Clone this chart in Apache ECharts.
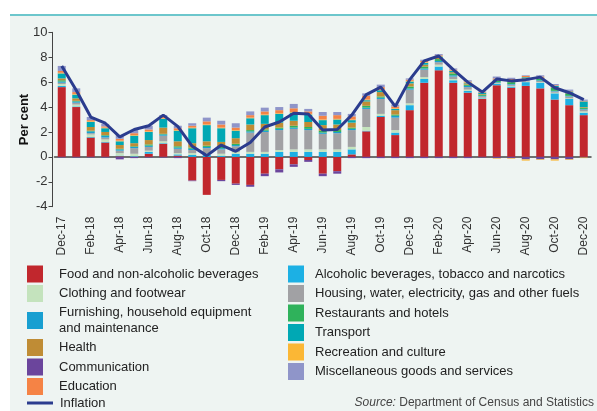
<!DOCTYPE html>
<html>
<head>
<meta charset="utf-8">
<title>Inflation contributions</title>
<script src="https://cdn.jsdelivr.net/npm/echarts@6.0.0/dist/echarts.min.js"></script>
<style>
  html, body { margin: 0; padding: 0; background: #ffffff; }
  #container { width: 597px; height: 411px; }
</style>
</head>
<body>
<div id="container"></div>
<script type="text/javascript">
var months = ['Dec-17','Jan-18','Feb-18','Mar-18','Apr-18','May-18','Jun-18','Jul-18','Aug-18','Sep-18','Oct-18','Nov-18',
              'Dec-18','Jan-19','Feb-19','Mar-19','Apr-19','May-19','Jun-19','Jul-19','Aug-19','Sep-19','Oct-19','Nov-19',
              'Dec-19','Jan-20','Feb-20','Mar-20','Apr-20','May-20','Jun-20','Jul-20','Aug-20','Sep-20','Oct-20','Nov-20','Dec-20'];

var food    = [5.6,4.0,1.55,1.15,0.05,0,0.25,1.05,0.1,-1.9,-3.05,-1.85,-2.15,-2.25,-1.35,-1.0,-0.6,-0.25,-1.35,-1.15,0.2,2.05,3.2,1.75,3.75,5.95,6.95,5.95,5.15,4.65,5.75,5.55,5.7,5.5,4.6,4.15,3.35];
var alcohol = [0.1,0.05,0.05,0.05,0.05,0.05,0.15,0.05,0.1,0.15,0.15,0.1,0.25,0.25,0.25,0.4,0.4,0.4,0.4,0.4,0.4,0.05,0.1,0.2,0.4,0.3,0.3,0.2,0.15,0.05,0.1,0.1,0.3,0.45,0.5,0.5,0.2];
var clothing = [0.15,0.15,0.2,0.2,0.2,0.2,0.1,0.15,0.1,0.15,0.15,0.15,0.15,0.15,0.15,0.15,0.2,0.2,0.2,0.2,0.2,0.3,0.15,0.2,0.15,0.15,0.15,0.1,0.1,0.05,0.05,0.05,0.05,0.05,0.05,0.05,0.1];
var housing = [0.1,0.15,0.1,0.15,0.2,0.45,0.3,0.45,0.35,0.25,0.4,0.35,0.45,1.55,1.6,1.6,1.65,1.55,1.25,1.3,1.35,1.45,1.2,1.0,1.1,0.6,0.2,0.2,0.2,0.1,0.05,0.1,0.1,0.1,0.1,0.15,0.15];
var furnishing = [0.1,0.1,0.15,0.15,0.1,0.1,0.1,0.1,0.1,0.1,0.1,0.1,0.1,0.1,0.1,0.1,0.1,0.1,0.1,0.1,0.1,0.1,0.1,0.15,0.1,0.1,0.1,0.1,0.1,0.05,0.05,0.05,0.05,0.05,0.05,0.05,0.05];
var restaurants = [0.1,0.05,0.05,0.05,0.05,0.05,0.1,0.05,0.1,0.1,0.1,0.1,0.1,0.1,0.1,0.1,0.15,0.15,0.15,0.15,0.1,0.15,0.1,0.1,0.15,0.15,0.15,0.15,0.1,0.1,0.1,0.15,0.1,0.1,0.25,0.2,0.1];
var health  = [0.15,0.2,0.3,0.25,0.3,0.25,0.35,0.5,0.4,0.35,0.35,0.4,0.45,0.45,0.45,0.4,0.4,0.4,0.45,0.45,0.4,0.35,0.35,0.35,0.25,0.15,0.1,0.1,0.1,0.05,0.05,0.05,0.05,0.05,0.05,0.05,0.05];
var transport = [0.4,0.3,0.4,0.3,0.3,0.6,0.65,0.7,0.85,1.2,1.3,1.1,0.6,0.5,0.7,0.7,0.65,0.6,0.4,0.4,0.2,0.1,0.15,0.1,0.15,0.15,0.1,0.1,0.05,0.1,0.05,0.1,0.05,0.05,0.1,0.1,0.45];
var communication = [-0.05,-0.05,-0.05,-0.05,-0.2,-0.1,-0.05,-0.05,-0.1,-0.05,0,-0.1,-0.1,-0.15,-0.2,-0.25,-0.2,-0.15,-0.2,-0.2,-0.1,-0.1,-0.1,-0.1,-0.1,-0.1,-0.1,-0.1,-0.1,-0.05,-0.1,-0.1,-0.2,-0.2,-0.2,-0.2,-0.05];
var recreation = [0.05,0.05,0.05,0.05,0.05,0.05,0.05,0.05,0.05,0.05,0.05,0.05,0.05,0.05,0.05,0.05,0.05,0.05,0.05,0.05,0.05,0.05,0.05,0.05,0.05,0.05,0.05,0.05,0.05,0,-0.05,-0.05,-0.1,-0.05,-0.1,-0.05,-0.05];
var education = [0.15,0.15,0.1,0.1,0.15,0.15,0.15,0.15,0.15,0.15,0.25,0.25,0.2,0.2,0.25,0.25,0.3,0.2,0.3,0.3,0.25,0.3,0.2,0.15,0.1,0.1,0.05,0.05,0.05,0.05,0.1,0.1,0.1,0.1,0.05,0.05,0.05];
var misc    = [0.4,0.3,0.25,0.2,0.3,0.25,0.3,0.1,0.2,0.2,0.3,0.3,0.35,0.3,0.3,0.25,0.35,0.2,0.3,0.25,0.2,0.2,0.2,0.15,0.1,0.1,0.1,0.1,0.1,0.05,0.15,0.1,0.05,0.1,0.1,0.1,0.1];
var inflation = [7.3,5.35,3.2,2.7,1.6,2.2,2.5,3.35,2.45,0.85,0.1,0.95,0.45,1.15,2.4,2.8,3.5,3.45,2.15,2.2,3.35,5.0,5.6,4.05,6.2,7.7,8.1,7.0,6.0,5.2,6.25,6.1,6.2,6.4,5.55,5.15,4.6];

var yTicks = [-4, 10, 2];

var FURN = 'Furnishing, household equipment and maintenance';

// stack order as in the original (legend read row by row)
var groups = [
    ['Food and non-alcoholic beverages', food, '#c1272d'],
    ['Alcoholic beverages, tobacco and narcotics', alcohol, '#1cb0e4'],
    ['Clothing and footwear', clothing, '#c4e3bd'],
    ['Housing, water, electricity, gas and other fuels', housing, '#a1a1a4'],
    [FURN, furnishing, '#189fd1'],
    ['Restaurants and hotels', restaurants, '#2fb25b'],
    ['Health', health, '#bf8c35'],
    ['Transport', transport, '#00a8b4'],
    ['Communication', communication, '#6b459c'],
    ['Recreation and culture', recreation, '#fbb735'],
    ['Education', education, '#f58345'],
    ['Miscellaneous goods and services', misc, '#8f95c9']
];

var series = groups.map(function (g) {
    return {
        name: g[0],
        type: 'bar',
        stack: 'cpi',
        barWidth: 8,
        data: g[1],
        itemStyle: {color: g[2]},
        emphasis: {disabled: true}
    };
});
series.push({
    name: 'Inflation',
    type: 'line',
    data: inflation,
    symbol: 'none',
    lineStyle: {color: '#2b3c8e', width: 3},
    itemStyle: {color: '#2b3c8e'},
    z: 5
});

var font = 'Liberation Sans';
var legendText = {fontFamily: font, fontSize: 13, color: '#222', lineHeight: 16};

var myChart = echarts.init(document.getElementById('container'), null, {renderer: 'canvas'});

var option = {
    animation: false,
    backgroundColor: '#ffffff',
    textStyle: {fontFamily: font},
    graphic: [
        {type: 'rect', shape: {x: 10, y: 15, width: 587, height: 396}, style: {fill: '#eef4f2'}, z: -10},
        {type: 'rect', shape: {x: 10, y: 14, width: 587, height: 2}, style: {fill: '#6cc6cc'}, z: -9},
        {
            type: 'text', right: 3, top: 397,
            style: {
                text: '{i|Source:} Department of Census and Statistics',
                fill: '#444', font: '12px ' + font,
                rich: {i: {fontStyle: 'italic', fontSize: 12, fontFamily: font, fill: '#444'}}
            }
        }
    ],
    grid: {left: 54.5, right: 6, top: 32.3, height: 174.4, containLabel: false},
    legend: [
        {
            orient: 'vertical', left: 27, top: 265.5, padding: 0, itemWidth: 16, itemHeight: 17, itemGap: 2.5,
            icon: 'rect', selectedMode: false,
            textStyle: Object.assign({padding: [0, 0, 0, 11]}, legendText),
            formatter: function (n) { return n === FURN ? 'Furnishing, household equipment\nand maintenance' : n; },
            data: ['Food and non-alcoholic beverages', 'Clothing and footwear', FURN, 'Health', 'Communication', 'Education']
        },
        {
            orient: 'vertical', left: 288, top: 265.5, padding: 0, itemWidth: 16, itemHeight: 17, itemGap: 2.5,
            icon: 'rect', selectedMode: false,
            textStyle: Object.assign({padding: [0, 0, 0, 6]}, legendText),
            data: ['Alcoholic beverages, tobacco and narcotics', 'Housing, water, electricity, gas and other fuels',
                   'Restaurants and hotels', 'Transport', 'Recreation and culture', 'Miscellaneous goods and services']
        },
        {
            orient: 'vertical', left: 27, top: 395, padding: 0, itemWidth: 26, itemHeight: 3,
            selectedMode: false,
            textStyle: Object.assign({padding: [0, 0, 0, 2]}, legendText),
            data: [{name: 'Inflation', icon: 'rect'}]
        }
    ],
    xAxis: [
        {
            type: 'category', data: months, position: 'bottom',
            axisLine: {onZero: true, lineStyle: {color: '#444', width: 1.5}},
            axisTick: {interval: 1, length: 4, lineStyle: {color: '#444'}},
            axisLabel: {show: false},
            splitLine: {show: false}
        },
        {
            type: 'category', data: months, position: 'bottom',
            axisLine: {show: false, onZero: false},
            axisTick: {show: false},
            axisLabel: {interval: 1, rotate: 90, margin: 10, fontSize: 12, color: '#333', fontFamily: font},
            splitLine: {show: false}
        }
    ],
    yAxis: {
        type: 'value', min: yTicks[0], max: yTicks[1], interval: yTicks[2],
        offset: 2,
        name: 'Per cent', nameLocation: 'middle', nameRotate: 90, nameGap: 22,
        nameMoveOverlap: false,
        nameTextStyle: {fontWeight: 'bold', fontSize: 13, color: '#111', fontFamily: font},
        axisLine: {show: true, lineStyle: {color: '#444', width: 1}},
        axisTick: {show: true, length: 4, lineStyle: {color: '#444'}},
        axisLabel: {fontSize: 13, color: '#333', margin: 5, fontFamily: font},
        splitLine: {show: false}
    },
    series: series
};

myChart.setOption(option);
</script>
</body>
</html>
